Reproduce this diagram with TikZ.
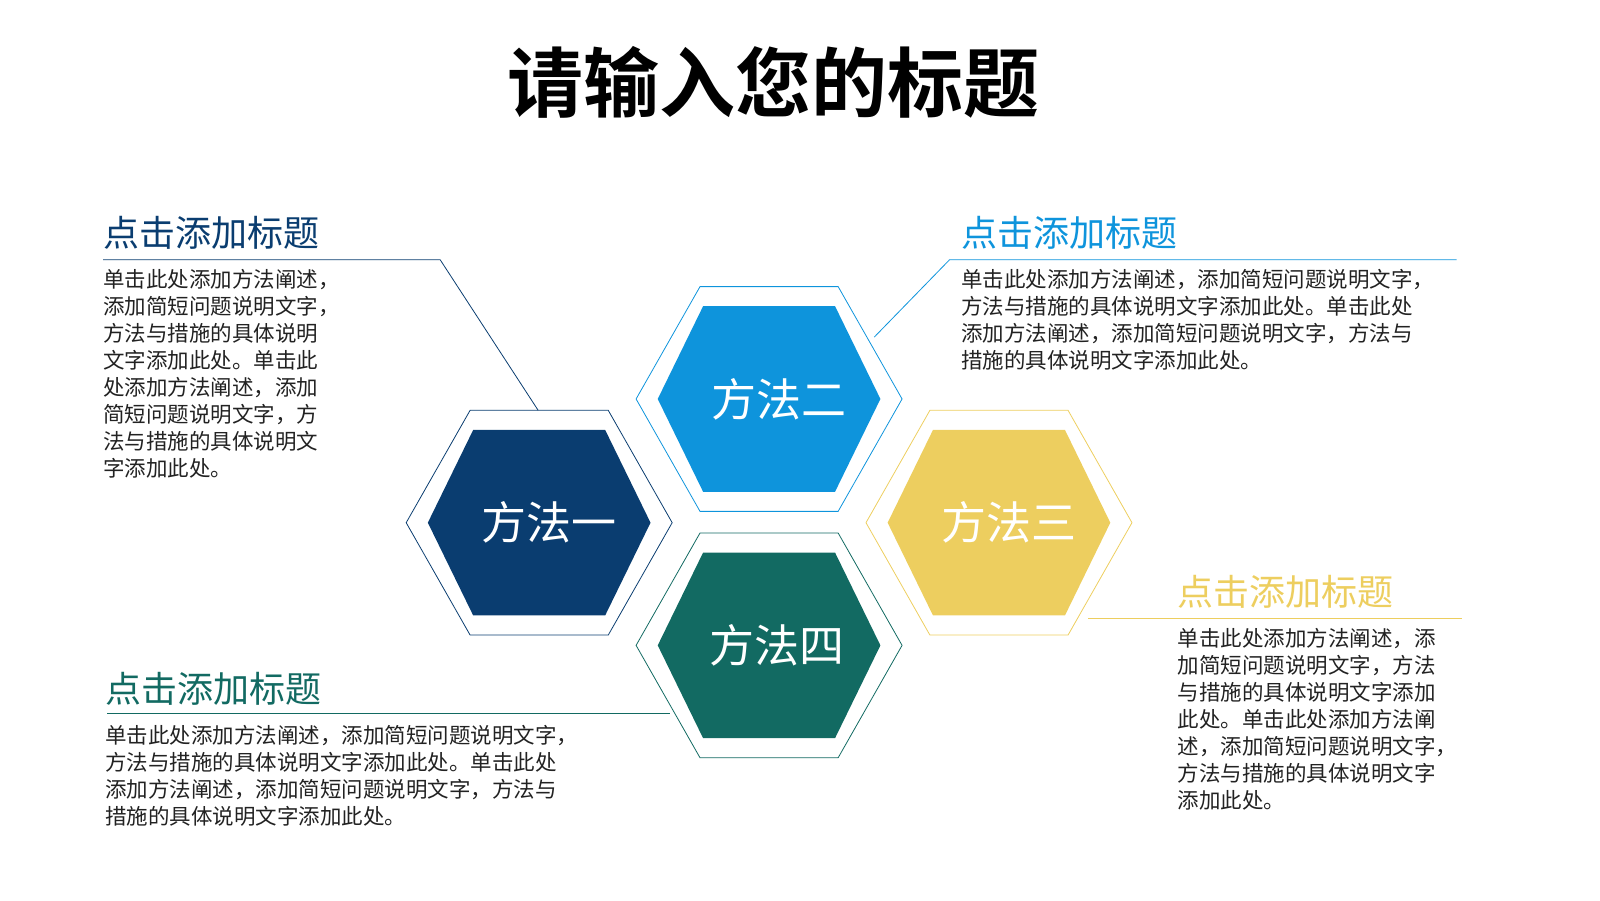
\documentclass[tikz,border=0pt]{standalone}
\usepackage{fontspec}
\newfontfamily\cjk{Noto Sans CJK SC}
\newfontfamily\cjkb{Noto Sans CJK SC Bold}
\definecolor{cA}{HTML}{0A3D70}
\definecolor{cB}{HTML}{0E94DC}
\definecolor{cC}{HTML}{EDCE5F}
\definecolor{cD}{HTML}{126A62}
\definecolor{txt}{HTML}{222222}
\tikzset{
 hexin/.style={fill=#1,draw=none},
 hexout/.style={draw=#1,line width=0.8pt,fill=none},
 hexlbl/.style={text=white,font=\cjk\fontsize{45}{45}\selectfont},
 head/.style={anchor=south west,inner sep=0pt,font=\cjk\fontsize{36}{38}\selectfont,text=#1},
 body/.style={anchor=north west,inner sep=0pt,align=left,text=txt,font=\cjk\fontsize{21.5}{27}\selectfont},
 conn/.style={draw=#1,line width=0.8pt}
}
\newcommand{\hexat}[2]{% center, color
 \fill[hexin=#2] ($(#1)+(-108,0)$) -- ($(#1)+(-64,-90)$) -- ($(#1)+(64,-90)$) -- ($(#1)+(108,0)$) -- ($(#1)+(64,90)$) -- ($(#1)+(-64,90)$) -- cycle;
 \draw[hexout=#2] ($(#1)+(-129,0)$) -- ($(#1)+(-67,-109)$) -- ($(#1)+(67,-109)$) -- ($(#1)+(129,0)$) -- ($(#1)+(67,109)$) -- ($(#1)+(-67,109)$) -- cycle;
}
\usetikzlibrary{calc}
\begin{document}
\begin{tikzpicture}[x=1.031pt,y=-1.031pt]
\useasboundingbox (0,0) rectangle (1552,873);
\node[font=\cjkb\fontsize{76}{76}\selectfont,text=black] (title) at (750,80) {请输入您的标题};
\coordinate (h1) at (523,507);
\coordinate (h2) at (746,387);
\coordinate (h3) at (969,507);
\coordinate (h4) at (746,626);
\hexat{h1}{cA}
\hexat{h2}{cB}
\hexat{h3}{cC}
\hexat{h4}{cD}
\node[hexlbl] (l1) at ($(h1)+(10,0)$) {方法一};
\node[hexlbl] (l2) at ($(h2)+(10,0)$) {方法二};
\node[hexlbl] (l3) at ($(h3)+(10,0)$) {方法三};
\node[hexlbl] (l4) at ($(h4)+(8,0)$) {方法四};
% headings
\node[head=cA] (t1) at (100,242) {点击添加标题};
\node[head=cB] (t2) at (932,242) {点击添加标题};
\node[head=cC] (t3) at (1142,590) {点击添加标题};
\node[head=cD] (t4) at (102,684) {点击添加标题};
% connectors
\coordinate (c1a) at (100,252); \coordinate (c1b) at (427,252); \coordinate (c1c) at (522,398);
\draw[conn=cA] (c1a) -- (c1b) -- (c1c);
\coordinate (c2a) at (1413,252); \coordinate (c2b) at (921,252); \coordinate (c2c) at (848,327);
\draw[conn=cB] (c2a) -- (c2b) -- (c2c);
\coordinate (c3a) at (1418,600); \coordinate (c3b) at (1055,600);
\draw[conn=cC] (c3a) -- (c3b);
\coordinate (c4a) at (104,692); \coordinate (c4b) at (650,692);
\draw[conn=cD] (c4a) -- (c4b);
% bodies
\node[body] (b1) at (100,261) {单击此处添加方法阐述，\\添加简短问题说明文字，\\方法与措施的具体说明\\文字添加此处。单击此\\处添加方法阐述，添加\\简短问题说明文字，方\\法与措施的具体说明文\\字添加此处。};
\node[body] (b2) at (932,261) {单击此处添加方法阐述，添加简短问题说明文字，\\方法与措施的具体说明文字添加此处。单击此处\\添加方法阐述，添加简短问题说明文字，方法与\\措施的具体说明文字添加此处。};
\node[body] (b3) at (1142,609) {单击此处添加方法阐述，添\\加简短问题说明文字，方法\\与措施的具体说明文字添加\\此处。单击此处添加方法阐\\述，添加简短问题说明文字，\\方法与措施的具体说明文字\\添加此处。};
\node[body] (b4) at (102,703) {单击此处添加方法阐述，添加简短问题说明文字，\\方法与措施的具体说明文字添加此处。单击此处\\添加方法阐述，添加简短问题说明文字，方法与\\措施的具体说明文字添加此处。};
\end{tikzpicture}
\end{document}
